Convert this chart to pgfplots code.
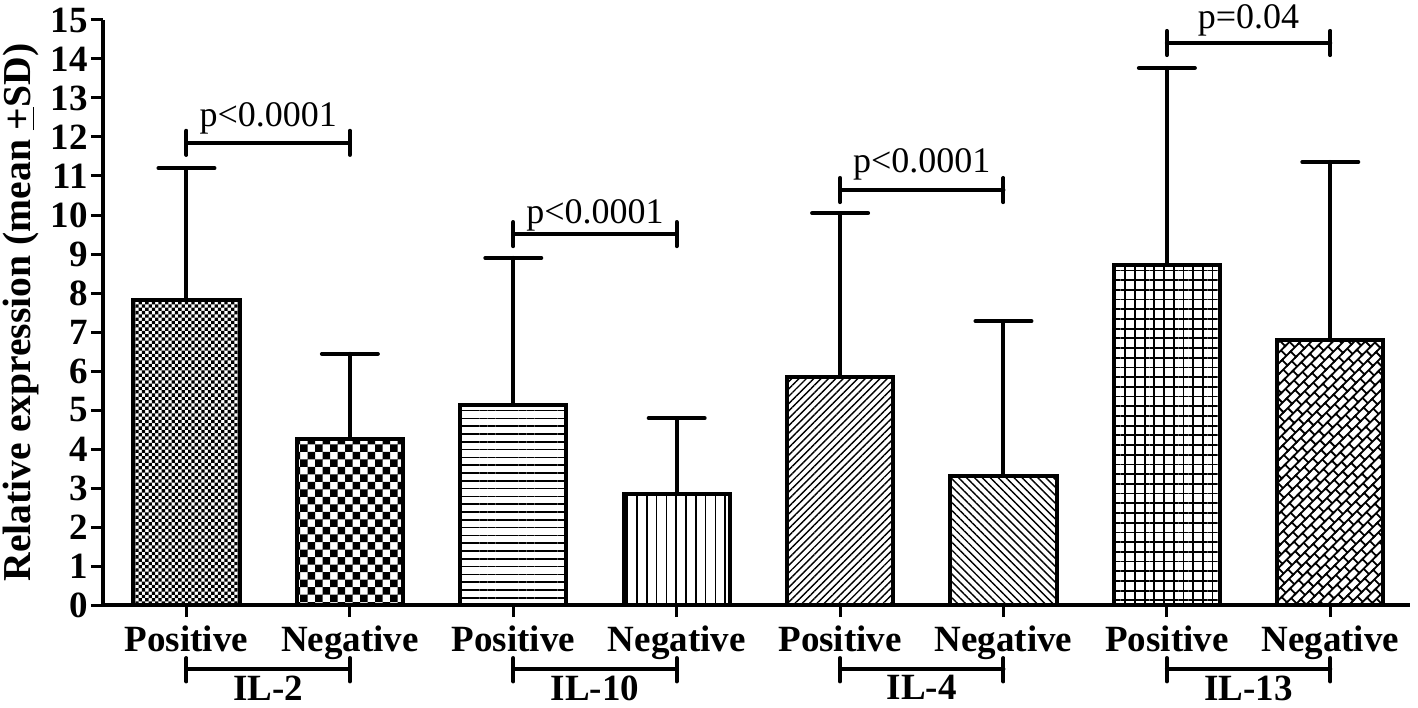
\documentclass[border=0pt]{standalone}
\usepackage{fontspec}
\setmainfont{Liberation Serif}
\usepackage{pgfplots}
\pgfplotsset{compat=1.18}
\usetikzlibrary{patterns,patterns.meta,calc}

% fill patterns of the eight bars
\pgfdeclarepatternformonly{finechecker}{\pgfqpoint{-0.1pt}{-0.1pt}}{\pgfqpoint{3.4pt}{3.4pt}}{\pgfqpoint{3.3pt}{3.3pt}}{%
  \pgfpathrectangle{\pgfpointorigin}{\pgfqpoint{1.65pt}{1.65pt}}%
  \pgfpathrectangle{\pgfqpoint{1.65pt}{1.65pt}}{\pgfqpoint{1.65pt}{1.65pt}}%
  \pgfusepath{fill}}
\pgfdeclarepatternformonly{coarsechecker}{\pgfqpoint{-0.1pt}{-0.1pt}}{\pgfqpoint{7.6pt}{7.6pt}}{\pgfqpoint{7.5pt}{7.5pt}}{%
  \pgfpathrectangle{\pgfpointorigin}{\pgfqpoint{3.75pt}{3.75pt}}%
  \pgfpathrectangle{\pgfqpoint{3.75pt}{3.75pt}}{\pgfqpoint{3.75pt}{3.75pt}}%
  \pgfusepath{fill}}
\pgfdeclarepattern{
  name=bricks,
  bottom left={\pgfqpoint{-1pt}{-1pt}},
  top right={\pgfqpoint{7pt}{8.6pt}},
  tile size={\pgfqpoint{6pt}{7.6pt}},
  tile transformation={\pgftransformrotate{45}},
  code={
    \pgfsetlinewidth{0.9pt}
    \pgfpathmoveto{\pgfqpoint{-1pt}{0pt}}\pgfpathlineto{\pgfqpoint{7pt}{0pt}}
    \pgfpathmoveto{\pgfqpoint{-1pt}{3.8pt}}\pgfpathlineto{\pgfqpoint{7pt}{3.8pt}}
    \pgfpathmoveto{\pgfqpoint{0pt}{0pt}}\pgfpathlineto{\pgfqpoint{0pt}{3.8pt}}
    \pgfpathmoveto{\pgfqpoint{3pt}{3.8pt}}\pgfpathlineto{\pgfqpoint{3pt}{7.6pt}}
    \pgfusepath{stroke}
  }
}

\newcommand{\bigbf}{\fontsize{18.5}{20}\selectfont\bfseries}
\newcommand{\pfont}{\fontsize{18}{20}\selectfont}

\pgfplotsset{
  barst/.style={ybar, bar shift=0pt, bar width=0.65, draw=black,
    line width=2pt,
    error bars/y dir=plus, error bars/y explicit,
    error bars/error mark=|,
    error bars/error bar style={line width=2pt, line cap=round},
    error bars/error mark options={line width=2pt, mark size=14pt, line cap=round}},
}

\begin{document}
\begin{tikzpicture}
\begin{axis}[
  scale only axis,
  width=653.5pt, height=292.5pt,
  xmin=-0.511, xmax=7.488,
  ymin=0, ymax=15,
  axis lines=left,
  axis line style={-, line width=2pt},
  tick pos=left, tick align=outside,
  major tick length=6pt,
  every tick/.style={black, line width=1.5pt},
  ytick={0,1,...,15},
  xtick={0,1,...,7},
  xticklabels={Positive,Negative,Positive,Negative,Positive,Negative,Positive,Negative},
  tick label style={font=\bigbf},
  /pgf/number format/assume math mode=true,
  yticklabel style={anchor=east, inner sep=0pt, xshift=-1.5pt},
  xticklabel style={anchor=north, inner sep=0pt, yshift=-4pt},
  ylabel={Relative expression (mean \underline{+}SD)},
  ylabel style={font=\fontsize{19.8}{21}\selectfont\bfseries, at={(axis description cs:-0.0627,0.5)}, anchor=center},
  clip=false,
]
\coordinate (o) at (rel axis cs:0,0);
% IL-2
\addplot[barst, pattern=finechecker] coordinates {(0,7.82) +- (0,3.38)};
\addplot[barst, pattern=coarsechecker] coordinates {(1,4.26) +- (0,2.18)};
% IL-10
\addplot[barst, pattern={Lines[angle=0,distance=3.9pt,line width=0.75pt]}] coordinates {(2,5.13) +- (0,3.77)};
\addplot[barst, pattern={Lines[angle=90,distance=4.9pt,line width=0.75pt]}] coordinates {(3,2.85) +- (0,1.94)};
% IL-4
\addplot[barst, pattern={Lines[angle=45,distance=2.6pt,line width=0.7pt]}] coordinates {(4,5.85) +- (0,4.20)};
\addplot[barst, pattern={Lines[angle=-45,distance=2.8pt,line width=0.7pt]}] coordinates {(5,3.31) +- (0,3.97)};
% IL-13
\addplot[barst, pattern={Hatch[angle=0,distance=4.85pt,line width=0.9pt]}] coordinates {(6,8.72) +- (0,5.05)};
\addplot[barst, pattern=bricks] coordinates {(7,6.79) +- (0,4.57)};

% significance brackets
\begin{scope}[line width=2pt, line cap=round]
\draw (axis cs:0,11.85) -- (axis cs:1,11.85);
\draw (axis cs:0,11.54) -- (axis cs:0,12.16);
\draw (axis cs:1,11.54) -- (axis cs:1,12.16);
\draw (axis cs:2,9.51) -- (axis cs:3,9.51);
\draw (axis cs:2,9.2) -- (axis cs:2,9.82);
\draw (axis cs:3,9.2) -- (axis cs:3,9.82);
\draw (axis cs:4,10.64) -- (axis cs:5,10.64);
\draw (axis cs:4,10.33) -- (axis cs:4,10.95);
\draw (axis cs:5,10.33) -- (axis cs:5,10.95);
\draw (axis cs:6,14.41) -- (axis cs:7,14.41);
\draw (axis cs:6,14.1) -- (axis cs:6,14.72);
\draw (axis cs:7,14.1) -- (axis cs:7,14.72);
% group brackets below the axis
\draw (axis cs:0,-1.64) -- (axis cs:1,-1.64);
\draw (axis cs:0,-1.36) -- (axis cs:0,-1.96);
\draw (axis cs:1,-1.36) -- (axis cs:1,-1.96);
\draw (axis cs:2,-1.64) -- (axis cs:3,-1.64);
\draw (axis cs:2,-1.36) -- (axis cs:2,-1.96);
\draw (axis cs:3,-1.36) -- (axis cs:3,-1.96);
\draw (axis cs:4,-1.64) -- (axis cs:5,-1.64);
\draw (axis cs:4,-1.36) -- (axis cs:4,-1.96);
\draw (axis cs:5,-1.36) -- (axis cs:5,-1.96);
\draw (axis cs:6,-1.64) -- (axis cs:7,-1.64);
\draw (axis cs:6,-1.36) -- (axis cs:6,-1.96);
\draw (axis cs:7,-1.36) -- (axis cs:7,-1.96);
\end{scope}
\node[anchor=base, font=\pfont] at (axis cs:0.5,12.26) {p<0.0001};
\node[anchor=base, font=\pfont] at (axis cs:2.5,9.79) {p<0.0001};
\node[anchor=base, font=\pfont] at (axis cs:4.5,11.1) {p<0.0001};
\node[anchor=base, font=\pfont] at (axis cs:6.5,14.79) {p=0.04};
\node[anchor=north, inner sep=0pt, font=\bigbf] at (axis cs:0.5,-1.8) {IL-2};
\node[anchor=north, inner sep=0pt, font=\bigbf] at (axis cs:2.5,-1.8) {IL-10};
\node[anchor=north, inner sep=0pt, font=\bigbf] at (axis cs:4.5,-1.8) {IL-4};
\node[anchor=north, inner sep=0pt, font=\bigbf] at (axis cs:6.5,-1.8) {IL-13};
\end{axis}
\pgfresetboundingbox
\path[use as bounding box] ($(o)+(-51.5pt,-51pt)$) rectangle ($(o)+(657.5pt,302.5pt)$);
\end{tikzpicture}
\end{document}
